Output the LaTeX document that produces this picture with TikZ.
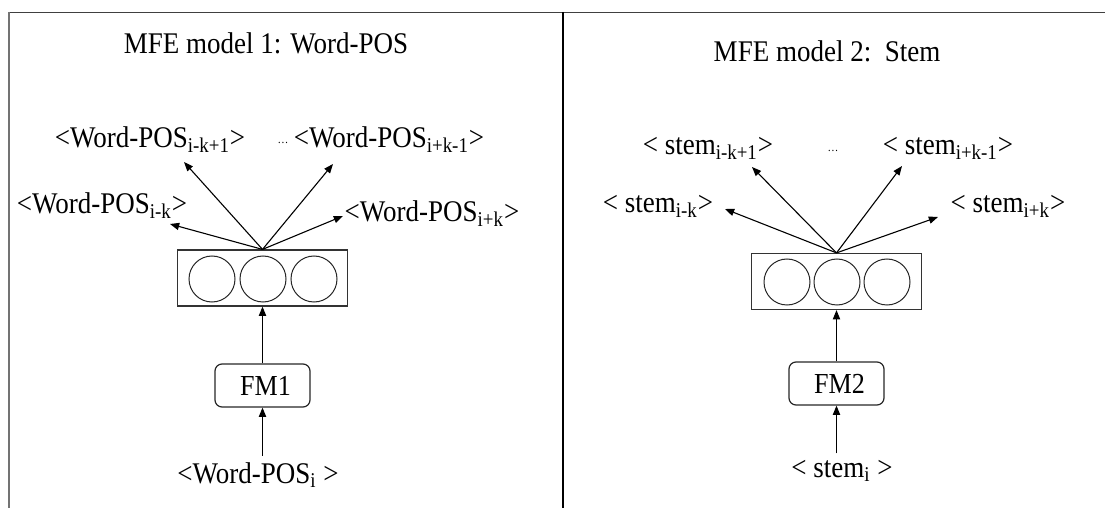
\documentclass[tikz,border=0pt]{standalone}
\usepackage{fontspec}
\setmainfont{Liberation Serif}[FakeStretch=0.9]
\usetikzlibrary{arrows.meta}
\newcommand{\idx}[1]{\textsubscript{#1}}
\begin{document}
\begin{tikzpicture}[x=0.5pt,y=-0.5pt,
  lbl/.style={inner sep=0pt, anchor=base, font=\fontsize{15}{18}\selectfont},
  src/.style={lbl, inner ysep=3pt},
  ttl/.style={inner sep=0pt, anchor=base, font=\fontsize{15}{18}\selectfont},
  layer/.style={draw=black!80, line width=0.6pt, minimum width=85pt, minimum height=28pt, inner sep=0pt},
  unit/.style={circle, draw=black!85, line width=0.5pt, minimum size=23pt, inner sep=0pt},
  fmbox/.style={draw=black!85, rounded corners=3.5pt, line width=0.6pt, minimum width=47.5pt, minimum height=21.5pt, inner sep=0pt, font=\fontsize{14.5}{17}\selectfont},
  link/.style={-{Triangle[length=4.6pt,width=3.6pt]}, line width=0.55pt},
  dots/.style={inner sep=0pt, font=\fontsize{6}{6}\selectfont}
]
\useasboundingbox (0,0) rectangle (1105,508);

% outer frame and the divider between the two models
\draw[line width=0.8pt, black!75] (9,12.5) -- (1105,12.5);
\draw[line width=1pt, black!55] (9,12) -- (9,508);
\draw[line width=1pt] (563,12) -- (563,508);

% ---------- model 1: Word-POS ----------
\node[ttl] (t1) at (266,54) {MFE model 1: Word-POS};

\node[layer] (h1) at (262.5,278) {};
\node[unit] (h1a) at (212,279) {};
\node[unit] (h1b) at (263,279) {};
\node[unit] (h1c) at (314,279) {};

\node[fmbox] (fm1) at (262.5,385.5) {\hspace{3pt}FM1};
\node[src] (in1) at (258,483) {<Word-POS\idx{i} >};

\node[lbl] (o1a) at (150,148) {<Word-POS\idx{i-k+1}>};
\node[lbl] (o1b) at (389,148) {<Word-POS\idx{i+k-1}>};
\node[lbl] (o1c) at (102,214) {<Word-POS\idx{i-k}>};
\node[lbl] (o1d) at (432,222) {<Word-POS\idx{i+k}>};
\node[dots] (d1) at (283,143) {\ldots};

\coordinate (e1a) at (184,162);
\coordinate (e1b) at (333,164);
\coordinate (e1c) at (170,224);
\coordinate (e1d) at (343,216);

\draw[link] (h1.north) -- (e1a);
\draw[link] (h1.north) -- (e1b);
\draw[link] (h1.north) -- (e1c);
\draw[link] (h1.north) -- (e1d);
\draw[link] (fm1.north) -- (h1.south);
\draw[link] (fm1.south |- in1.north) -- (fm1.south);

% ---------- model 2: Stem ----------
\node[ttl] (t2) at (827,62) {MFE model 2:\ \ Stem};

\node[layer] (h2) at (836.5,281.5) {};
\node[unit] (h2a) at (787,282) {};
\node[unit] (h2b) at (837,282) {};
\node[unit] (h2c) at (887,282) {};

\node[fmbox] (fm2) at (836.5,383.5) {\hspace{3pt}FM2};
\node[src] (in2) at (842,477) {< stem\idx{i} >};

\node[lbl] (o2a) at (708,155) {< stem\idx{i-k+1}>};
\node[lbl] (o2b) at (948,155) {< stem\idx{i+k-1}>};
\node[lbl] (o2c) at (658,213) {< stem\idx{i-k}>};
\node[lbl] (o2d) at (1008,213) {< stem\idx{i+k}>};
\node[dots] (d2) at (833,151) {\ldots};

\coordinate (e2a) at (752,167);
\coordinate (e2b) at (902,166);
\coordinate (e2c) at (725,209);
\coordinate (e2d) at (938,217);

\draw[link] (h2.north) -- (e2a);
\draw[link] (h2.north) -- (e2b);
\draw[link] (h2.north) -- (e2c);
\draw[link] (h2.north) -- (e2d);
\draw[link] (fm2.north) -- (h2.south);
\draw[link] (fm2.south |- in2.north) -- (fm2.south);
\end{tikzpicture}
\end{document}
